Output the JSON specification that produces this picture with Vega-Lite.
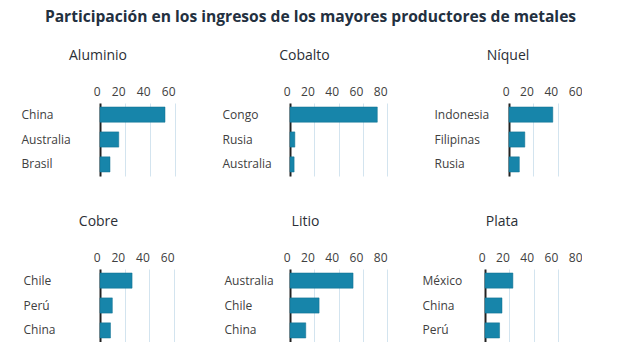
{
  "$schema": "https://vega.github.io/schema/vega-lite/v6.json",
  "background": "white",
  "padding": {"left": 21, "top": 10, "right": 0, "bottom": 0},
  "title": {"text": "Participación en los ingresos de los mayores productores de metales", "fontSize": 15.6, "fontWeight": "bold", "color": "#23303f", "anchor": "middle", "frame": "bounds", "dx": 9, "offset": 23},
  "data": {"values": [
    {"metal": "Aluminio", "pais": "China", "valor": 52},
    {"metal": "Aluminio", "pais": "Australia", "valor": 15},
    {"metal": "Aluminio", "pais": "Brasil", "valor": 8},
    {"metal": "Cobalto", "pais": "Congo", "valor": 72},
    {"metal": "Cobalto", "pais": "Rusia", "valor": 4},
    {"metal": "Cobalto", "pais": "Australia", "valor": 3.4},
    {"metal": "Níquel", "pais": "Indonesia", "valor": 36},
    {"metal": "Níquel", "pais": "Filipinas", "valor": 13},
    {"metal": "Níquel", "pais": "Rusia", "valor": 8.5},
    {"metal": "Cobre", "pais": "Chile", "valor": 26},
    {"metal": "Cobre", "pais": "Perú", "valor": 10},
    {"metal": "Cobre", "pais": "China", "valor": 8.5},
    {"metal": "Litio", "pais": "Australia", "valor": 52},
    {"metal": "Litio", "pais": "Chile", "valor": 24},
    {"metal": "Litio", "pais": "China", "valor": 13},
    {"metal": "Plata", "pais": "México", "valor": 23},
    {"metal": "Plata", "pais": "China", "valor": 14},
    {"metal": "Plata", "pais": "Perú", "valor": 12}
  ]},
  "config": {
    "font": "Open Sans",
    "view": {"stroke": null},
    "title": {"fontSize": 14, "fontWeight": "normal", "color": "#2b2f36", "anchor": "middle", "frame": "bounds", "offset": 22},
    "axisX": {"title": null, "ticks": false, "tickSize": 0, "domain": false, "grid": true, "gridColor": "#d3e4ef", "gridWidth": 1, "labelAlign": "right", "labelFlush": false, "labelFontSize": 12, "labelColor": "#404040", "labelPadding": 5},
    "axisY": {"title": null, "ticks": false, "tickSize": 0, "grid": false, "domainColor": "#222222", "domainWidth": 2, "labelAlign": "left", "labelFontSize": 12, "labelColor": "#404040"},
    "bar": {"color": "#1785aa", "stroke": "#0f6f8f", "strokeWidth": 0.5}
  },
  "spacing": 39,
  "vconcat": [
    {
      "spacing": 47,
      "hconcat": [
        {"title": "Aluminio", "transform": [{"filter": "datum.metal === 'Aluminio'"}], "width": 75, "height": 73, "mark": "bar",
         "encoding": {"y": {"field": "pais", "type": "nominal", "sort": null, "scale": {"paddingInner": 0.39, "paddingOuter": 0.16}, "axis": {"labelPadding": 79}},
                      "x": {"field": "valor", "type": "quantitative", "scale": {"domain": [0, 60]}, "axis": {"orient": "top", "values": [0, 20, 40, 60]}}}},
        {"title": "Cobalto", "transform": [{"filter": "datum.metal === 'Cobalto'"}], "width": 97, "height": 73, "mark": "bar",
         "encoding": {"y": {"field": "pais", "type": "nominal", "sort": null, "scale": {"paddingInner": 0.39, "paddingOuter": 0.16}, "axis": {"labelPadding": 68}},
                      "x": {"field": "valor", "type": "quantitative", "scale": {"domain": [0, 80]}, "axis": {"orient": "top", "values": [0, 20, 40, 60, 80]}}}},
        {"title": "Níquel", "transform": [{"filter": "datum.metal === 'Níquel'"}], "width": 73, "height": 73, "mark": "bar",
         "encoding": {"y": {"field": "pais", "type": "nominal", "sort": null, "scale": {"paddingInner": 0.39, "paddingOuter": 0.16}, "axis": {"labelPadding": 75}},
                      "x": {"field": "valor", "type": "quantitative", "scale": {"domain": [0, 60]}, "axis": {"orient": "top", "values": [0, 20, 40, 60]}}}}
      ]
    },
    {
      "spacing": 50,
      "hconcat": [
        {"title": "Cobre", "transform": [{"filter": "datum.metal === 'Cobre'"}], "width": 74, "height": 73, "mark": "bar",
         "encoding": {"y": {"field": "pais", "type": "nominal", "sort": null, "scale": {"paddingInner": 0.39, "paddingOuter": 0.16}, "axis": {"labelPadding": 77}},
                      "x": {"field": "valor", "type": "quantitative", "scale": {"domain": [0, 60]}, "axis": {"orient": "top", "values": [0, 20, 40, 60]}}}},
        {
          "spacing": 35,
          "hconcat": [
            {"title": "Litio", "transform": [{"filter": "datum.metal === 'Litio'"}], "width": 97, "height": 73, "mark": "bar",
             "encoding": {"y": {"field": "pais", "type": "nominal", "sort": null, "scale": {"paddingInner": 0.39, "paddingOuter": 0.16}, "axis": {"labelPadding": 66}},
                          "x": {"field": "valor", "type": "quantitative", "scale": {"domain": [0, 80]}, "axis": {"orient": "top", "values": [0, 20, 40, 60, 80]}}}},
            {"title": "Plata", "transform": [{"filter": "datum.metal === 'Plata'"}], "width": 97, "height": 73, "mark": "bar",
             "encoding": {"y": {"field": "pais", "type": "nominal", "sort": null, "scale": {"paddingInner": 0.39, "paddingOuter": 0.16}, "axis": {"labelPadding": 63}},
                          "x": {"field": "valor", "type": "quantitative", "scale": {"domain": [0, 80]}, "axis": {"orient": "top", "values": [0, 20, 40, 60, 80]}}}}
          ]
        }
      ]
    }
  ]
}
